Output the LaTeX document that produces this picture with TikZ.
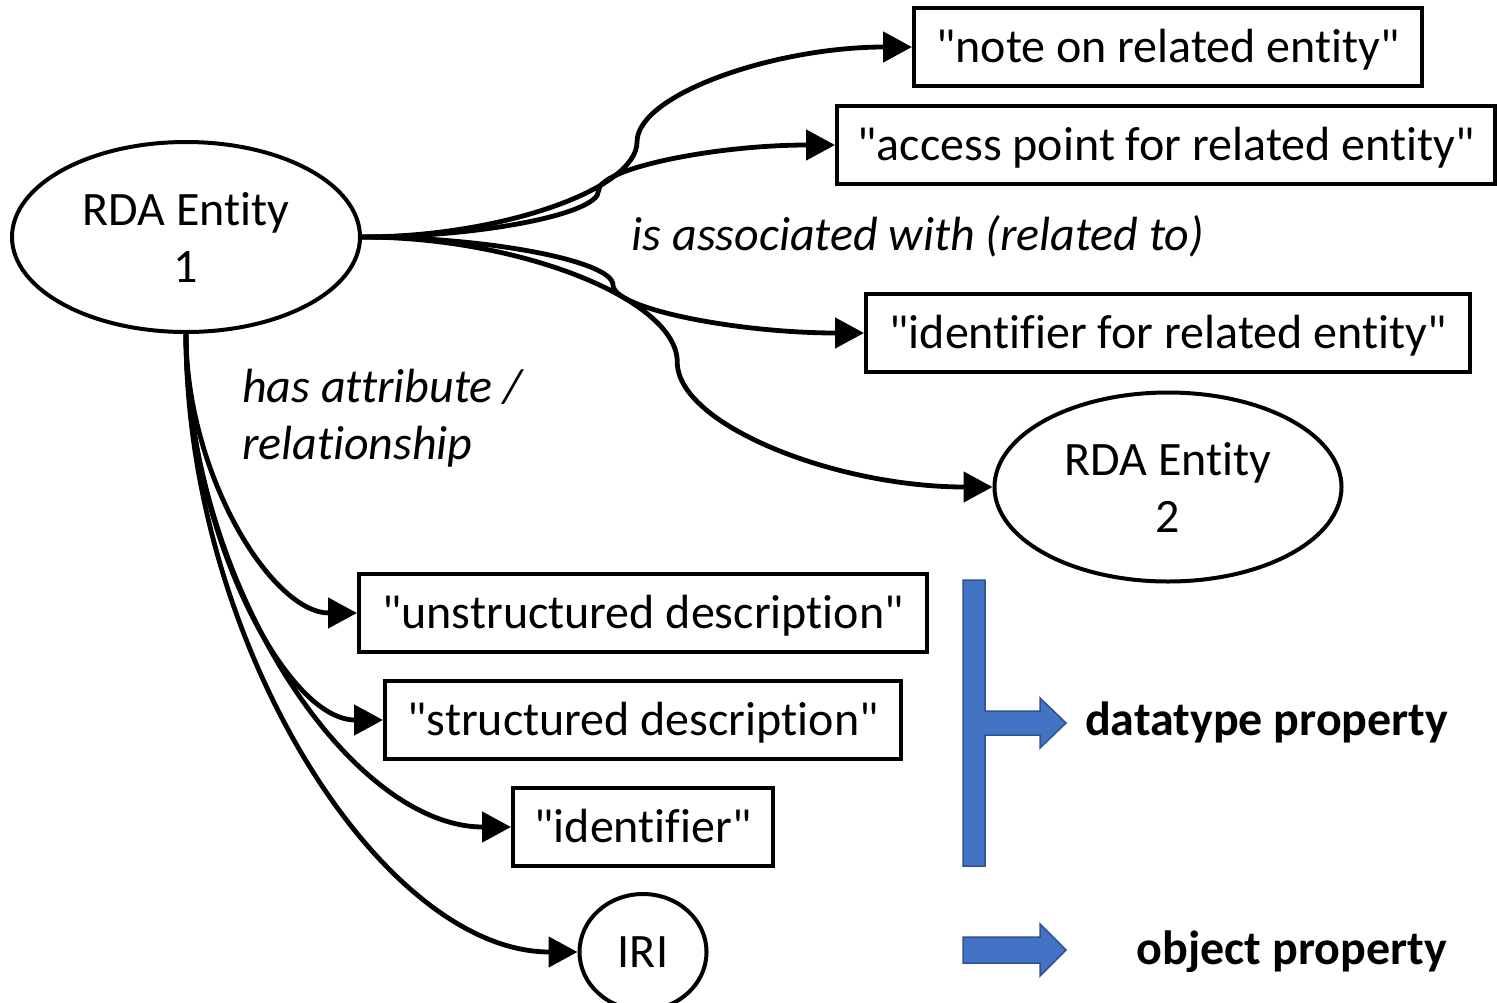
\documentclass[tikz,border=0pt]{standalone}
\usepackage{fontspec}
\setmainfont{Carlito}[Ligatures=NoCommon]
\usetikzlibrary{shapes.geometric,arrows.meta,calc}
\definecolor{pblue}{HTML}{4472C4}
\definecolor{pblueline}{HTML}{2F528F}
\newcommand\qq{\textquotedbl}
\begin{document}
\begin{tikzpicture}[x=1pt,y=-1pt,
  txt/.style={font=\fontsize{48}{57}\selectfont},
  itxt/.style={font=\fontsize{48}{57}\selectfont\itshape},
  btxt/.style={font=\fontsize{48}{57}\selectfont\bfseries},
  box/.style={txt, draw, line width=4pt, rectangle, inner sep=0pt, text height=36pt, text depth=6pt},
  ent/.style={txt, draw, line width=4pt, ellipse, inner sep=0pt, align=center},
  conn/.style={line width=4.8pt, -{Triangle[length=29pt,width=30pt]}},
  blueshape/.style={fill=pblue, draw=pblueline, line width=1.5pt},
  cc3/.style={to path={let \p1=(\tikztostart), \p2=(\tikztotarget) in
    .. controls ({0.75*\x1+0.25*\x2},\y1) and ({0.5*\x1+0.5*\x2},{0.75*\y1+0.25*\y2})
    .. ({0.5*\x1+0.5*\x2},{0.5*\y1+0.5*\y2})
    .. controls ({0.5*\x1+0.5*\x2},{0.25*\y1+0.75*\y2}) and ({0.25*\x1+0.75*\x2},\y2)
    .. (\tikztotarget)}},
  cc2/.style={to path={let \p1=(\tikztostart), \p2=(\tikztotarget) in
    .. controls (\x1,{0.5*\y1+0.5*\y2}) and ({0.5*\x1+0.5*\x2},\y2)
    .. (\tikztotarget)}}
]
\useasboundingbox (0,0) rectangle (1497,1002);

% entities
\node[ent, minimum width=348pt, minimum height=190pt] (E1) at (186,237) {RDA Entity\\1};
\node[ent, minimum width=347pt, minimum height=189pt] (E2) at (1168,487) {RDA Entity\\2};
\node[ent, minimum width=127pt, minimum height=116pt] (IRI) at (643,952) {IRI};

% boxes
\node[box, minimum width=508pt, minimum height=78pt] (note) at (1168,47) {\qq note on related entity\qq};
\node[box, minimum width=658pt, minimum height=78pt] (access) at (1166,145) {\qq access point for related entity\qq};
\node[box, minimum width=604pt, minimum height=78pt] (idrel) at (1168,333) {\qq identifier for related entity\qq};
\node[box, minimum width=568pt, minimum height=78pt] (unstr) at (643,613) {\qq unstructured description\qq};
\node[box, minimum width=516pt, minimum height=78pt] (struc) at (643,720) {\qq structured description\qq};
\node[box, minimum width=260pt, minimum height=78pt] (ident) at (643,827) {\qq identifier\qq};

% labels
\node[itxt] (lblrel) at (918,236) {is associated with (related to)};
\node[itxt, anchor=west, align=left, inner sep=0pt] (lblattr) at (242,418) {has attribute /\\relationship};
\node[btxt, anchor=west, inner sep=0pt] (dt) at (1085,722) {datatype property};
\node[btxt, anchor=east, inner sep=0pt] (op) at (1447,952) {object property};

% connectors
\draw[conn] (E1.east) to[cc3] (note.west);
\draw[conn] (E1.east) to[cc3] (access.west);
\draw[conn] (E1.east) to[cc3] (idrel.west);
\draw[conn] (E1.east) to[cc3] (E2.west);
\draw[conn] (E1.south) to[cc2] (unstr.west);
\draw[conn] (E1.south) to[cc2] (struc.west);
\draw[conn] (E1.south) to[cc2] (ident.west);
\draw[conn] (E1.south) to[cc2] (IRI.west);

% legend shapes
\draw[blueshape] (963,580) -- (985,580) -- (985,711) -- (1040,711) -- (1040,698)
  -- (1066,723) -- (1040,748) -- (1040,735) -- (985,735) -- (985,866) -- (963,866) -- cycle;
\draw[blueshape] (963,937) -- (1040,937) -- (1040,924) -- (1066,950) -- (1040,976)
  -- (1040,963) -- (963,963) -- cycle;
\end{tikzpicture}
\end{document}
